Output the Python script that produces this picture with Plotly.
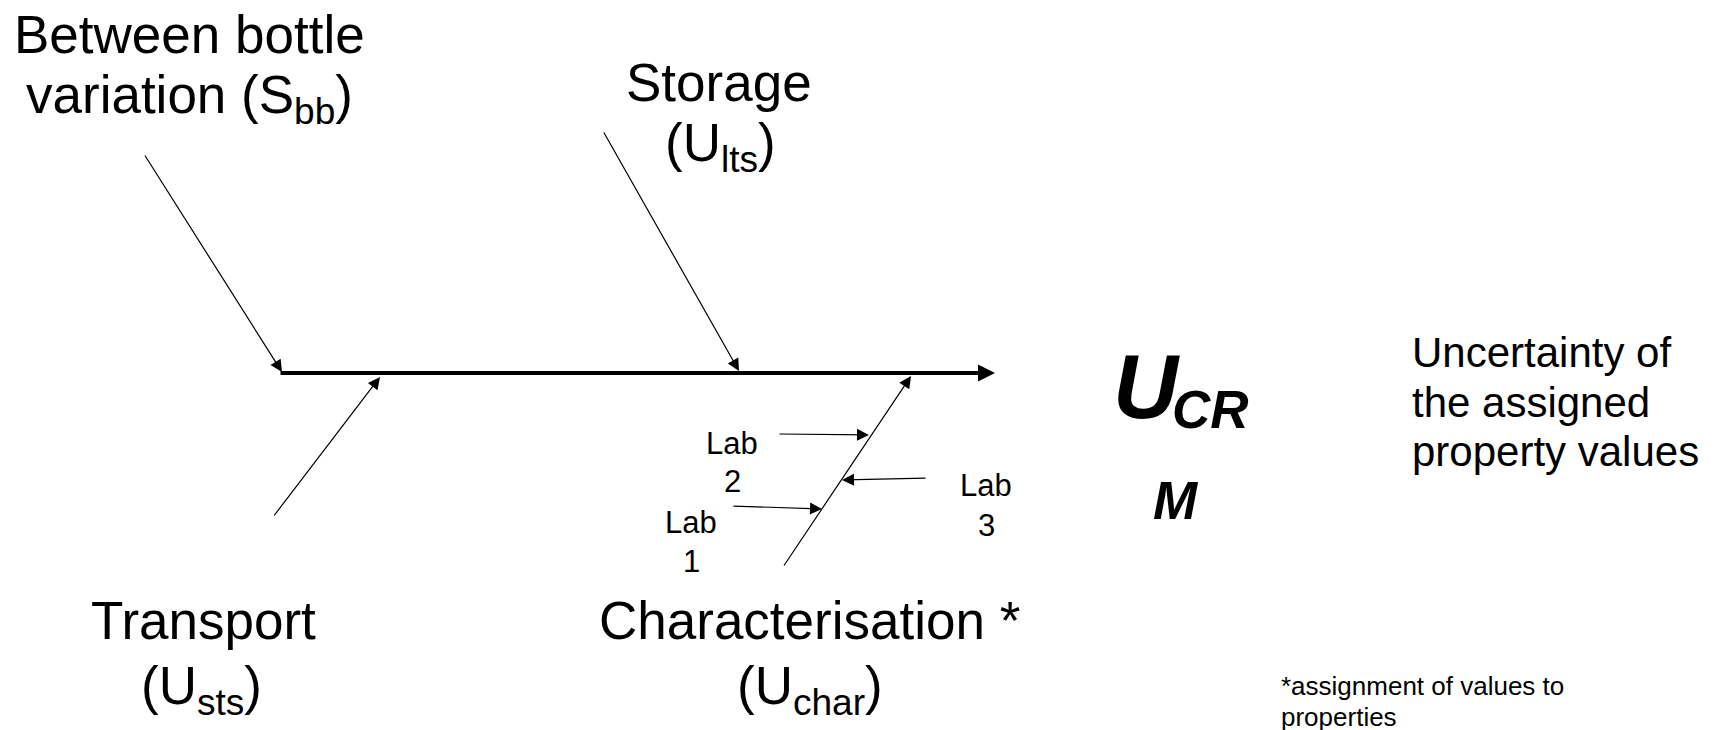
import plotly.graph_objects as go

W, H = 1714, 730
OFF = 8  # page body margin in the browser

# ---- diagram geometry (pixel space of the 1714x730 canvas) ----
spine_x = [279, 995]
spine_y = [373, 373]

branch_names = ["Between bottle", "Storage", "Transport", "Characterisation"]
branch_tail_x = [144, 603, 273, 783]
branch_tail_y = [154, 131, 517, 567]
branch_head_x = [282, 739, 380, 911]
branch_head_y = [372, 371, 377, 376]

lab_names = ["Lab 2", "Lab 3", "Lab 1"]
lab_tail_x = [778, 927, 732]
lab_tail_y = [434, 478, 506]
lab_head_x = [869, 842, 822]
lab_head_y = [435, 480, 509]

# ---- texts ----
label_lines = [
    "Between bottle", "variation (S<sub>bb</sub>)",
    "Storage", "(U<sub>lts</sub>)",
    "Transport", "(U<sub>sts</sub>)",
    "Characterisation *", "(U<sub>char</sub>)",
]
label_x = [189, 189, 719, 720, 203, 201, 809, 810]
label_y = [34, 98, 82, 146, 620, 689, 620, 689]

lab_lines = ["Lab", "2", "Lab", "1", "Lab", "3"]
lab_x = [732, 732, 691, 691, 986, 986]
lab_y = [443, 481, 522, 561, 485, 525]

result_lines = ["Uncertainty of", "the assigned", "property values"]
result_x = [1410, 1410, 1410]
result_y = [352, 402, 451]

note_lines = ["*assignment of values to", "properties"]
note_x = [1279, 1279]
note_y = [686, 717]

FONT = "Liberation Sans, Arial, sans-serif"

fig = go.Figure()
fig.add_trace(go.Scatter(x=[OFF, W], y=[OFF, H], mode="markers",
                         marker=dict(opacity=0), hoverinfo="skip", showlegend=False))

ann = []
# spine arrow
ann.append(dict(x=spine_x[1], y=spine_y[1], ax=spine_x[0], ay=spine_y[0],
                xref="x", yref="y", axref="x", ayref="y", text="",
                showarrow=True, arrowhead=2, arrowsize=0.85, arrowwidth=4,
                arrowcolor="black"))
# branches
for tx, ty, hx, hy in zip(branch_tail_x, branch_tail_y, branch_head_x, branch_head_y):
    ann.append(dict(x=hx, y=hy, ax=tx, ay=ty,
                    xref="x", yref="y", axref="x", ayref="y", text="",
                    showarrow=True, arrowhead=2, arrowsize=2.0, arrowwidth=1.2,
                    arrowcolor="black"))
for tx, ty, hx, hy in zip(lab_tail_x, lab_tail_y, lab_head_x, lab_head_y):
    ann.append(dict(x=hx, y=hy, ax=tx, ay=ty,
                    xref="x", yref="y", axref="x", ayref="y", text="",
                    showarrow=True, arrowhead=2, arrowsize=2.0, arrowwidth=1.2,
                    arrowcolor="black"))

def txt(t, x, y, size, xanchor="center", **kw):
    ann.append(dict(text=t, x=x, y=y, xref="x", yref="y", showarrow=False,
                    xanchor=xanchor, yanchor="middle",
                    font=dict(family=FONT, size=size, color="black"), **kw))

for t, x, y in zip(label_lines, label_x, label_y):
    txt(t, x, y, 53)
for t, x, y in zip(lab_lines, lab_x, lab_y):
    txt(t, x, y, 31)
for t, x, y in zip(result_lines, result_x, result_y):
    txt(t, x, y, 42, xanchor="left")
for t, x, y in zip(note_lines, note_x, note_y):
    txt(t, x, y, 26, xanchor="left")

# U_CRM symbol
txt("<b><i>U</i></b>", 1146, 387, 90)
txt("<b><i>CR</i></b>", 1210, 409, 53)
txt("<b><i>M</i></b>", 1176, 500, 53)

fig.update_layout(
    width=W, height=H,
    margin=dict(l=0, r=0, t=0, b=0),
    paper_bgcolor="white", plot_bgcolor="white",
    xaxis=dict(range=[OFF, W + OFF], visible=False, fixedrange=True),
    yaxis=dict(range=[H + OFF, OFF], visible=False, fixedrange=True),
    annotations=ann,
    showlegend=False,
)
fig.write_html("out.html")
